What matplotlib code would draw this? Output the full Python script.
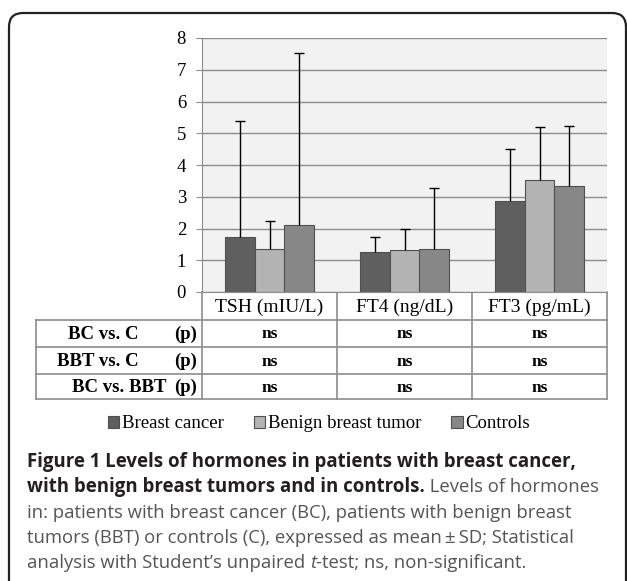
import matplotlib
matplotlib.use("Agg")
import matplotlib.pyplot as plt
from matplotlib.patches import Patch, FancyBboxPatch
import numpy as np

# Data (mean and SD)
categories = ["TSH (mIU/L)", "FT4 (ng/dL)", "FT3 (pg/mL)"]
groups = ["Breast cancer", "Benign breast tumor", "Controls"]
bc_mean = [1.72, 1.27, 2.88]
bc_sd = [3.66, 0.46, 1.61]
bbt_mean = [1.35, 1.31, 3.52]
bbt_sd = [0.88, 0.67, 1.69]
ctrl_mean = [2.12, 1.35, 3.33]
ctrl_sd = [5.42, 1.92, 1.91]

comparisons = ["BC vs. C", "BBT vs. C", "BC vs. BBT"]
p_bc_c = ["ns", "ns", "ns"]
p_bbt_c = ["ns", "ns", "ns"]
p_bc_bbt = ["ns", "ns", "ns"]

W, H = 627, 581
SERIF = "Liberation Serif"
SANS = ["Open Sans", "DejaVu Sans"]
colors = ["#5f5f5f", "#b3b3b3", "#878787"]
edge = "#505050"
line_c = "#8c8c8c"


def fig_rect(x0, y0, x1, y1):
    return [x0 / W, 1 - y1 / H, (x1 - x0) / W, (y1 - y0) / H]


fig = plt.figure(figsize=(W / 100, H / 100), dpi=100)

# overlay in pixel coordinates for frame, table and caption
ov = fig.add_axes([0, 0, 1, 1])
ov.set_xlim(0, W)
ov.set_ylim(H, 0)
ov.axis("off")

ax = fig.add_axes(fig_rect(202, 38, 607, 292))
ax.set_facecolor("#f2f2f2")
x = np.arange(len(categories))
bw = 0.222
series = [(bc_mean, bc_sd), (bbt_mean, bbt_sd), (ctrl_mean, ctrl_sd)]
for i, (m, sd) in enumerate(series):
    m = np.array(m)
    sd = np.array(sd)
    xs = x + (i - 1) * bw
    ax.bar(xs, m, bw, color=colors[i], edgecolor=edge, linewidth=0.8, zorder=3)
    # upper-only error bars with a cap at the top
    ax.vlines(xs, m, m + sd, color="black", linewidth=1, zorder=4)
    ax.plot(xs, m + sd, linestyle="none", marker="_", markersize=7,
            markeredgewidth=1, color="black", zorder=4, clip_on=False)

ax.set_xlim(-0.5, 2.5)
ax.set_ylim(0, 8)
ax.set_yticks(range(9))
ax.set_xticks([])
ax.yaxis.grid(True, color=line_c, linewidth=1)
ax.set_axisbelow(True)
for s in ["top", "right"]:
    ax.spines[s].set_visible(False)
ax.spines["left"].set_color(line_c)
ax.spines["bottom"].set_color(line_c)
ax.tick_params(axis="y", length=4.5, color=line_c, pad=7, labelsize=13.5)
for lab in ax.get_yticklabels():
    lab.set_fontfamily(SERIF)

# table under the chart
row_y = [292, 320, 347, 374, 399]
col_x = [36, 202, 337, 472, 607]
for xx in col_x[1:]:
    ov.plot([xx, xx], [row_y[0], row_y[-1]], color=line_c, lw=1.2)
ov.plot([col_x[0], col_x[0]], [row_y[1], row_y[-1]], color=line_c, lw=1.2)
for yy in row_y[1:]:
    ov.plot([col_x[0], col_x[-1]], [yy, yy], color=line_c, lw=1.2)

for j, cat in enumerate(categories):
    ov.text((col_x[j + 1] + col_x[j + 2]) / 2, (row_y[0] + row_y[1]) / 2 + 1, cat,
            ha="center", va="center", fontsize=14, family=SERIF)

label_right = [138, 139, 166]
p_rows = [p_bc_c, p_bbt_c, p_bc_bbt]
for r, comp in enumerate(comparisons):
    yc = (row_y[r + 1] + row_y[r + 2]) / 2 + 1
    ov.text(label_right[r], yc, comp, ha="right", va="center", fontsize=13.5,
            family=SERIF, weight="bold")
    ov.text(197, yc, "(p)", ha="right", va="center", fontsize=13.5,
            family=SERIF, weight="bold")
    for j, p in enumerate(p_rows[r]):
        ov.text((col_x[j + 1] + col_x[j + 2]) / 2, yc, p, ha="center", va="center",
                fontsize=12.5, family=SERIF, weight="bold")

handles = [Patch(facecolor=colors[i], edgecolor=edge, linewidth=0.8, label=g)
           for i, g in enumerate(groups)]
fig.legend(handles=handles, loc="center", bbox_to_anchor=(319 / W, 1 - 424 / H),
           ncol=3, frameon=False, handlelength=0.6, handleheight=0.6,
           handletextpad=0.15, columnspacing=1.6,
           prop=dict(family=SERIF, size=13.5))

# rounded frame
ov.add_patch(FancyBboxPatch((9, 13), 617, 640, boxstyle="round,pad=0,rounding_size=14",
                            fc="none", ec="#222222", lw=1.6, clip_on=False))

# caption
renderer = fig.canvas.get_renderer()
bold_kw = dict(family=SANS, weight="bold", color="#231f20", fontsize=13.4)
reg_kw = dict(family=SANS, color="#555555", fontsize=13.3)
ital_kw = dict(family=SANS, style="italic", color="#555555", fontsize=13.3)
caption_lines = [
    [("Figure 1 Levels of hormones in patients with breast cancer,", bold_kw)],
    [("with benign breast tumors and in controls.", bold_kw), (" Levels of hormones", reg_kw)],
    [("in: patients with breast cancer (BC), patients with benign breast", reg_kw)],
    [("tumors (BBT) or controls (C), expressed as mean\u2009\u00b1\u2009SD; Statistical", reg_kw)],
    [("analysis with Student\u2019s unpaired ", reg_kw), ("t", ital_kw),
     ("-test; ns, non-significant.", reg_kw)],
]
line_y = [462, 487, 513, 538, 563]
for runs, yy in zip(caption_lines, line_y):
    xx = 27
    for s, kw in runs:
        t = ov.text(xx, yy, s, ha="left", va="center", **kw)
        xx += t.get_window_extent(renderer=renderer).width

fig.savefig("out.png", dpi=100)
